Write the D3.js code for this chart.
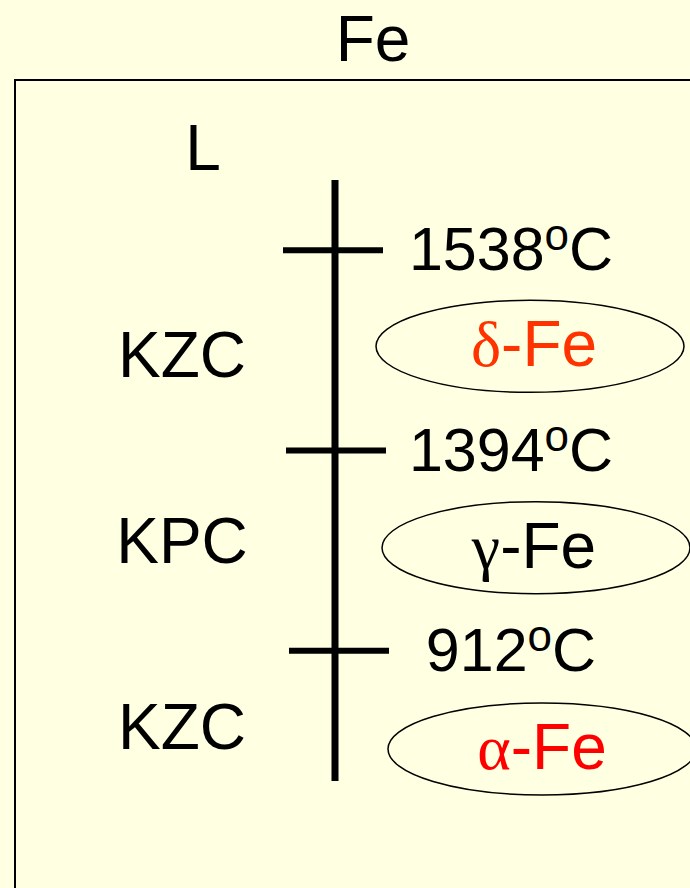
<!DOCTYPE html>
<html>
<head>
<meta charset="utf-8">
<script src="https://cdn.jsdelivr.net/npm/d3@7/dist/d3.min.js"></script>
<style>
  html, body { margin: 0; padding: 0; background: #FFFFE2; }
  svg { display: block; }
</style>
</head>
<body>
<svg id="chart" width="690" height="888"></svg>
<script>
// ---- data ----
const title = "Fe";
const topLabel = "L";
const temperatures = ["1538", "1394", "912"];
const phaseGreek = ["δ", "γ", "α"];
const phaseSuffix = ["-Fe", "-Fe", "-Fe"];
const structures = ["KZC", "KPC", "KZC"];

// ---- styles ----
const phaseColors = ["#FF3300", "#000000", "#FF0000"];
const sans = "Arial, 'Liberation Sans', Helvetica, sans-serif";
const serif = "'Times New Roman', 'Liberation Serif', serif";
const bg = "#FFFFE2";

const svg = d3.select("#chart");
svg.append("rect").attr("width", 690).attr("height", 888).attr("fill", bg);

// frame
svg.append("rect")
  .attr("x", 15).attr("y", 80).attr("width", 720).attr("height", 860)
  .attr("fill", "none").attr("stroke", "#000").attr("stroke-width", 2);

// title
svg.append("text").attr("x", 373).attr("y", 61)
  .attr("text-anchor", "middle").attr("font-family", sans).attr("font-size", 64)
  .text(title);

// level scale: 0 = liquid, odd = transition temps, even = phases
const y = d3.scaleLinear().domain([0, 6]).range([149, 750]);
// structure label scale (left column)
const yLeft = d3.scalePoint().domain(d3.range(structures.length)).range([354, 726]);

// vertical axis line
svg.append("line")
  .attr("x1", 335).attr("x2", 335)
  .attr("y1", 180).attr("y2", 781)
  .attr("stroke", "#000").attr("stroke-width", 7);

// top label L
svg.append("text").attr("x", 203).attr("y", y(0) + 21)
  .attr("text-anchor", "middle").attr("font-family", sans).attr("font-size", 64)
  .text(topLabel);

// temperature ticks
const tg = svg.append("g");
temperatures.forEach((t, i) => {
  const ty = y(2 * i + 1) + 1;
  tg.append("line")
    .attr("x1", 283 + 3 * i).attr("x2", 383 + 3 * i)
    .attr("y1", ty).attr("y2", ty)
    .attr("stroke", "#000").attr("stroke-width", 6);
  const txt = tg.append("text")
    .attr("x", 511).attr("y", ty + 20)
    .attr("text-anchor", "middle").attr("font-family", sans).attr("font-size", 61);
  txt.append("tspan").text(t);
  txt.append("tspan").attr("font-size", 44).attr("dy", -20).text("o");
  txt.append("tspan").attr("dy", 20).text("C");
});

// phases with ellipses
const pg = svg.append("g");
const textShift = [4, -2, 0];
phaseGreek.forEach((g, i) => {
  const py = y(2 * i + 2) - 3 + i;
  const cx = 530 + 6 * i;
  pg.append("ellipse")
    .attr("cx", cx).attr("cy", py).attr("rx", 154).attr("ry", 46)
    .attr("fill", "none").attr("stroke", "#000").attr("stroke-width", 1.5);
  const txt = pg.append("text")
    .attr("x", cx + textShift[i]).attr("y", py + 20)
    .attr("text-anchor", "middle").attr("font-size", 64)
    .attr("fill", phaseColors[i]);
  txt.append("tspan").attr("font-family", serif).text(g);
  txt.append("tspan").attr("font-family", sans).text(phaseSuffix[i]);
});

// crystal structures (left)
svg.append("g").selectAll("text").data(structures).join("text")
  .attr("x", 182).attr("y", (d, i) => yLeft(i) + 23)
  .attr("text-anchor", "middle").attr("font-family", sans).attr("font-size", 64)
  .text(d => d);
</script>
</body>
</html>
